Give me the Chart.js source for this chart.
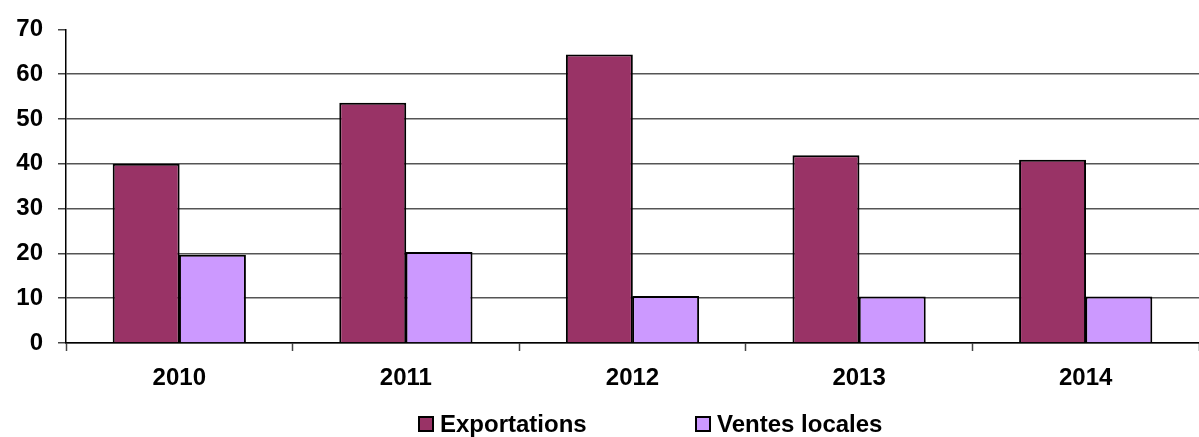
<!DOCTYPE html>
<html>
<head>
<meta charset="utf-8">
<script src="https://cdn.jsdelivr.net/npm/chart.js@4"></script>
<style>
  html, body { margin: 0; padding: 0; background: #fff; }
  #wrap { position: relative; width: 1199px; height: 437px; }
  #legend { position: absolute; top: 411px; left: 0; width: 1199px; height: 26px;
    font: bold 24px "Liberation Sans", Arial, sans-serif; color: #000; }
  .item { position: absolute; top: 0; display: flex; align-items: center; height: 26px; }
  .box { width: 12px; height: 12px; border: 2px solid #000; margin-right: 6px; }
</style>
</head>
<body>
<div id="wrap">
  <canvas id="chart" width="1199" height="437"></canvas>
  <div id="legend"></div>
</div>
<script>
  const years = ["2010", "2011", "2012", "2013", "2014"];
  const exportations = [40, 53.6, 64.4, 41.9, 40.9];
  const ventesLocales = [19.7, 20.3, 10.5, 10.4, 10.4];
  const yTicks = [0, 10, 20, 30, 40, 50, 60, 70];
  const seriesNames = ["Exportations", "Ventes locales"];
  const seriesColors = ["#993366", "#CC99FF"];

  const font = { family: "'Liberation Sans', Arial, sans-serif", size: 24, weight: "bold" };

  const ctx = document.getElementById("chart").getContext("2d");
  const chart = new Chart(ctx, {
    type: "bar",
    data: {
      labels: years,
      datasets: [
        {
          label: seriesNames[0],
          data: exportations,
          backgroundColor: seriesColors[0],
          borderColor: "#000",
          borderWidth: 2,
        },
        {
          label: seriesNames[1],
          data: ventesLocales,
          backgroundColor: seriesColors[1],
          borderColor: "#000",
          borderWidth: 2,
        },
      ],
    },
    options: {
      responsive: false,
      animation: false,
      layout: { padding: { top: 12, right: 0, bottom: 50, left: 0 } },
      plugins: {
        legend: { display: false },
        tooltip: { enabled: false },
      },
      datasets: {
        bar: { categoryPercentage: 0.585, barPercentage: 1.01 },
      },
      scales: {
        x: {
          offset: true,
          grid: {
            offset: true,
            drawOnChartArea: false,
            tickLength: 8,
            tickColor: "#444",
            tickWidth: 1.5,
          },
          border: { color: "#000", width: 1.5 },
          ticks: { color: "#000", font: font, padding: 13 },
          afterFit: (scale) => { scale.height = 44; },
        },
        y: {
          min: 0,
          max: 70,
          afterBuildTicks: (scale) => {
            scale.ticks = yTicks.map((v) => ({ value: v }));
          },
          grid: {
            color: (c) => (c.tick && c.tick.value === 70 ? "rgba(0,0,0,0)" : "#555"),
            lineWidth: 1.5,
            tickLength: 8,
            tickColor: "#444",
            tickWidth: 1.5,
          },
          border: { color: "#000", width: 1.5 },
          ticks: { color: "#000", font: font, padding: 15 },
          afterFit: (scale) => { scale.width = 66; },
        },
      },
    },
  });

  // legend built from the chart's datasets
  const legendPos = [418, 695];
  const legend = document.getElementById("legend");
  chart.data.datasets.forEach((ds, i) => {
    const item = document.createElement("div");
    item.className = "item";
    item.style.left = legendPos[i] + "px";
    const box = document.createElement("span");
    box.className = "box";
    box.style.background = ds.backgroundColor;
    const txt = document.createElement("span");
    txt.textContent = ds.label;
    item.appendChild(box);
    item.appendChild(txt);
    legend.appendChild(item);
  });
</script>
</body>
</html>
